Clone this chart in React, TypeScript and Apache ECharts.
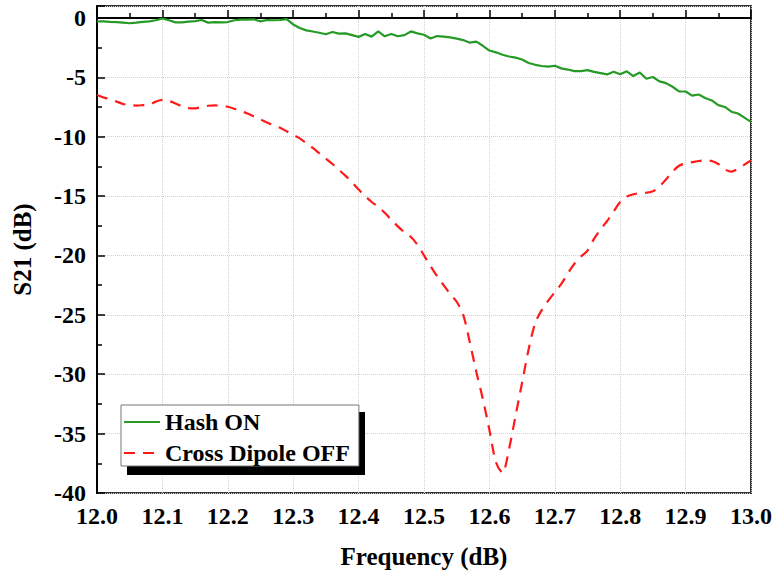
import React, { useEffect, useRef } from "react";
import * as echarts from "echarts";

const freq: number[] = [
  12.0, 12.01, 12.02, 12.03, 12.04, 12.05, 12.06, 12.07, 12.08, 12.09,
  12.1, 12.11, 12.12, 12.13, 12.14, 12.15, 12.16, 12.17, 12.18, 12.19,
  12.2, 12.21, 12.22, 12.23, 12.24, 12.25, 12.26, 12.27, 12.28, 12.29,
  12.3, 12.31, 12.32, 12.33, 12.34, 12.35, 12.36, 12.37, 12.38, 12.39,
  12.4, 12.41, 12.42, 12.43, 12.44, 12.45, 12.46, 12.47, 12.48, 12.49,
  12.5, 12.51, 12.52, 12.53, 12.54, 12.55, 12.56, 12.57, 12.58, 12.59,
  12.6, 12.61, 12.62, 12.63, 12.64, 12.65, 12.66, 12.67, 12.68, 12.69,
  12.7, 12.71, 12.72, 12.73, 12.74, 12.75, 12.76, 12.77, 12.78, 12.79,
  12.8, 12.81, 12.82, 12.83, 12.84, 12.85, 12.86, 12.87, 12.88, 12.89,
  12.9, 12.91, 12.92, 12.93, 12.94, 12.95, 12.96, 12.97, 12.98, 12.99,
  13.0,
];

const hashOn: number[] = [
  -0.3, -0.3, -0.33, -0.35, -0.4, -0.45, -0.4, -0.33, -0.3, -0.2,
  -0.05, -0.2, -0.38, -0.38, -0.32, -0.27, -0.18, -0.4, -0.35, -0.38,
  -0.35, -0.2, -0.15, -0.15, -0.12, -0.3, -0.18, -0.2, -0.18, -0.1,
  -0.55, -0.85, -1.05, -1.15, -1.25, -1.38, -1.19, -1.33, -1.3, -1.45,
  -1.6, -1.36, -1.58, -1.14, -1.55, -1.35, -1.55, -1.45, -1.14, -1.3,
  -1.42, -1.73, -1.53, -1.58, -1.64, -1.75, -1.87, -2.09, -2.0, -2.35,
  -2.75, -2.9, -3.1, -3.25, -3.35, -3.5, -3.8, -3.95, -4.05, -4.1,
  -4.03, -4.25, -4.35, -4.48, -4.48, -4.4, -4.55, -4.65, -4.76, -4.53,
  -4.75, -4.5, -4.9, -4.6, -5.12, -4.98, -5.35, -5.49, -5.8, -6.19,
  -6.2, -6.55, -6.45, -6.75, -6.95, -7.35, -7.5, -7.9, -8.05, -8.4,
  -8.75,
];

const crossDipoleOff: number[] = [
  -6.5, -6.7, -6.85, -7.05, -7.25, -7.35, -7.38, -7.35, -7.3, -7.05,
  -6.9, -7.0, -7.2, -7.45, -7.6, -7.62, -7.5, -7.4, -7.37, -7.4,
  -7.48, -7.65, -7.85, -8.05, -8.3, -8.55, -8.8, -9.05, -9.25, -9.55,
  -9.85, -10.15, -10.55, -10.95, -11.4, -11.85, -12.3, -12.8, -13.3, -13.85,
  -14.45, -15.0, -15.5, -15.9, -16.4, -17.0, -17.55, -18.05, -18.45, -19.1,
  -20.0, -20.9, -21.75, -22.5, -23.25, -23.9, -25.0, -27.3, -29.8, -32.1,
  -34.7, -37.4, -38.3, -36.3, -33.5, -30.7, -27.9, -25.7, -24.6, -23.8,
  -23.1, -22.4, -21.5, -20.7, -20.1, -19.6, -18.6, -17.8, -17.1, -16.3,
  -15.5, -15.05, -14.85, -14.75, -14.72, -14.6, -14.2, -13.6, -12.95, -12.45,
  -12.25, -12.15, -12.05, -12.0, -12.05, -12.3, -12.75, -12.95, -12.7, -12.35,
  -12.0,
];

const seriesNames: string[] = ["Hash ON", "Cross Dipole OFF"];
const xTitle = "Frequency (dB)";
const yTitle = "S21 (dB)";

const FONT = "'Liberation Serif', 'Times New Roman', serif";

export default function App() {
  const ref = useRef<HTMLDivElement>(null);

  useEffect(() => {
    if (!ref.current) return;
    const chart = echarts.init(ref.current, undefined, { renderer: "svg" });
    const labelStyle = {
      fontFamily: FONT,
      fontWeight: "bold" as const,
      fontSize: 24,
      color: "#000",
    };
    chart.setOption({
      animation: false,
      backgroundColor: "#fff",
      grid: {
        left: 97,
        right: 26,
        top: 6,
        bottom: 87,
        show: true,
        borderColor: "#333",
        borderWidth: 2,
        backgroundColor: "transparent",
      },
      legend: {
        orient: "vertical",
        left: 121,
        top: 405,
        data: seriesNames,
        itemWidth: 36,
        itemHeight: 22,
        itemGap: 7,
        padding: [5, 9, 1, 2],
        backgroundColor: "#fff",
        borderColor: "#777",
        borderWidth: 1,
        borderRadius: 0,
        itemStyle: { opacity: 0 },
        textStyle: { ...labelStyle, fontSize: 24 },
        z: 5,
      },
      graphic: [
        {
          type: "rect",
          z: 4,
          shape: { x: 127, y: 412, width: 238, height: 63 },
          style: { fill: "#000" },
        },
      ],
      xAxis: {
        type: "value",
        min: 12,
        max: 13,
        interval: 0.1,
        name: xTitle,
        nameLocation: "middle",
        nameGap: 51,
        nameTextStyle: { ...labelStyle, fontSize: 25 },
        axisLine: { show: true, lineStyle: { color: "#000", width: 2 } },
        axisTick: { show: true, inside: true, length: 8, lineStyle: { color: "#000", width: 1.5 } },
        minorTick: { show: true, splitNumber: 2, length: 5, lineStyle: { color: "#000", width: 1.5 } },
        axisLabel: {
          ...labelStyle,
          margin: 11,
          formatter: (v: number) => v.toFixed(1),
        },
        splitLine: { show: true, lineStyle: { color: "#d0d0d0", type: "dotted", width: 1 } },
      },
      yAxis: {
        type: "value",
        min: -40,
        max: 1,
        interval: 5,
        name: yTitle,
        nameLocation: "middle",
        nameGap: 62,
        nameTextStyle: { ...labelStyle, fontSize: 25 },
        axisLine: { show: true, lineStyle: { color: "#000", width: 2 } },
        axisTick: { show: true, inside: true, length: 8, lineStyle: { color: "#000", width: 1.5 } },
        minorTick: { show: true, splitNumber: 2, length: 5, lineStyle: { color: "#000", width: 1.5 } },
        axisLabel: {
          ...labelStyle,
          margin: 11,
          showMaxLabel: false,
          formatter: (v: number) => (Math.abs(v % 5) < 1e-9 ? String(v) : ""),
        },
        splitLine: { show: true, lineStyle: { color: "#d0d0d0", type: "dotted", width: 1 } },
      },
      series: [
        {
          name: seriesNames[0],
          type: "line",
          data: freq.map((f, i) => [f, hashOn[i]]),
          symbol: "none",
          lineStyle: { color: "#259a25", width: 2.2 },
          itemStyle: { color: "#259a25" },
        },
        {
          name: seriesNames[1],
          type: "line",
          data: freq.map((f, i) => [f, crossDipoleOff[i]]),
          symbol: "none",
          smooth: 0.3,
          lineStyle: { color: "#ff1a1a", width: 2.2, type: [11, 8] },
          itemStyle: { color: "#ff1a1a" },
        },
      ],
    });
    return () => chart.dispose();
  }, []);

  return (
    <div
      ref={ref}
      style={{ position: "fixed", left: 0, top: 0, width: 777, height: 580, background: "#fff" }}
    />
  );
}
